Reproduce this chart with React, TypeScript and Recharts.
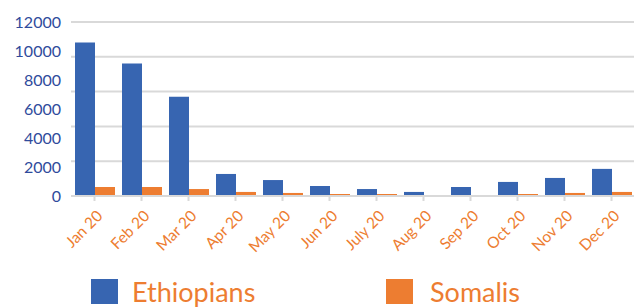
import React from 'react';
import { BarChart, Bar, XAxis, YAxis, CartesianGrid, Legend } from 'recharts';

const months = ['Jan 20', 'Feb 20', 'Mar 20', 'Apr 20', 'May 20', 'Jun 20', 'July 20', 'Aug 20', 'Sep 20', 'Oct 20', 'Nov 20', 'Dec 20'];
const ethiopians = [10580, 9130, 6850, 1520, 1100, 690, 480, 280, 620, 970, 1245, 1870];
const somalis = [620, 620, 480, 280, 210, 140, 140, 70, 70, 140, 210, 280];
const yTicks = [0, 2000, 4000, 6000, 8000, 10000, 12000];
const gridValues = [2400, 4800, 7200, 9600, 12000];

const data = months.map((m, i) => ({ month: m, Ethiopians: ethiopians[i], Somalis: somalis[i] }));

const BLUE = '#3765B1';
const ORANGE = '#ED7D31';
const FONT = 'Lato, "Open Sans", sans-serif';

const XTick = (props: any) => {
  const { x, y, payload } = props;
  return (
    <g transform={`translate(${x + 9},${y + 14})`}>
      <text x={0} y={0} textAnchor="end" transform="rotate(-45)" fill={ORANGE} fontSize={15.5} fontFamily={FONT}>
        {payload.value}
      </text>
    </g>
  );
};

const LegendContent = () => (
  <div style={{ position: 'relative', height: 30, width: 634, fontFamily: FONT }}>
    <div style={{ position: 'absolute', left: 91, top: 3, display: 'flex', alignItems: 'center' }}>
      <span style={{ display: 'inline-block', width: 27, height: 25, background: BLUE }} />
      <span style={{ marginLeft: 14, color: ORANGE, fontSize: 27, lineHeight: '25px' }}>Ethiopians</span>
    </div>
    <div style={{ position: 'absolute', left: 386, top: 3, display: 'flex', alignItems: 'center' }}>
      <span style={{ display: 'inline-block', width: 27, height: 25, background: ORANGE }} />
      <span style={{ marginLeft: 17, color: ORANGE, fontSize: 27, lineHeight: '25px' }}>Somalis</span>
    </div>
  </div>
);

export default function App() {
  return (
    <div style={{ position: 'absolute', left: 0, top: 0, width: 634, height: 308, overflow: 'hidden', background: '#fff' }}>
      <BarChart
        width={660}
        height={308}
        data={data}
        margin={{ top: 22, right: 25, left: 0, bottom: 22 }}
        barGap={0}
      >
        <CartesianGrid yAxisId="main" vertical={false} horizontalValues={gridValues} stroke="#d9d9d9" strokeWidth={2} />
        <YAxis
          yAxisId="main"
          orientation="left"
          width={71}
          domain={[0, 12000]}
          ticks={yTicks}
          tickLine={false}
          axisLine={false}
          tickMargin={4}
          tick={{ fill: '#2F4B9C', fontSize: 16, fontFamily: FONT }}
        />
        <XAxis
          dataKey="month"
          height={60}
          interval={0}
          axisLine={{ stroke: '#d9d9d9', strokeWidth: 2 }}
          tickLine={{ stroke: '#d9d9d9', strokeWidth: 2 }}
          tickSize={5}
          tick={<XTick />}
        />
        <Legend
          verticalAlign="bottom"
          content={<LegendContent />}
          wrapperStyle={{ top: 276, left: 0, bottom: 'auto', width: 634 }}
        />
        <Bar yAxisId="main" dataKey="Ethiopians" fill={BLUE} barSize={20} isAnimationActive={false} />
        <Bar yAxisId="main" dataKey="Somalis" fill={ORANGE} barSize={20} isAnimationActive={false} />
      </BarChart>
    </div>
  );
}
